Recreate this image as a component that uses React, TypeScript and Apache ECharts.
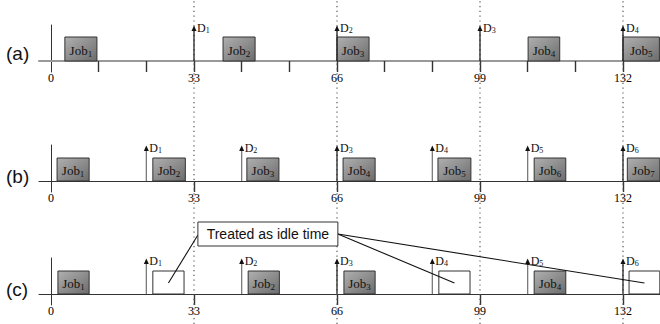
import React, { useEffect, useRef } from "react";
import * as echarts from "echarts";

// ---- data ----
const tickLabels = [0, 33, 66, 99, 132];
const ticksA = [11, 22, 33, 44, 55, 66, 77, 88, 99, 110, 121, 132];
const ticksBC = [33, 66, 99, 132];
const dottedLines = [33, 66, 99, 132];

// [start, end, job number (0 = idle)]
const jobsA = [
  [3.2, 10.6, 1],
  [39.7, 47.1, 2],
  [66.0, 73.4, 3],
  [110.1, 117.4, 4],
  [132.0, 140.4, 5],
];
const jobsB = [
  [1.4, 8.8, 1],
  [23.5, 31.0, 2],
  [45.2, 52.6, 3],
  [67.4, 74.8, 4],
  [89.3, 96.9, 5],
  [111.5, 118.8, 6],
  [133.0, 140.5, 7],
];
const jobsC = [
  [1.6, 8.8, 1],
  [23.5, 30.7, 0],
  [45.5, 52.7, 2],
  [67.6, 74.8, 3],
  [89.5, 96.7, 0],
  [111.5, 118.8, 4],
  [133.4, 140.5, 0],
];
// [time, deadline number]
const deadlinesA = [
  [33, 1],
  [66, 2],
  [99, 3],
  [132, 4],
];
const deadlinesBC = [
  [22, 1],
  [44, 2],
  [66, 3],
  [88, 4],
  [110, 5],
  [132, 6],
];
const panelLabels = ["(a)", "(b)", "(c)"];
const calloutText = "Treated as idle time";
const calloutBox = { x0: 33.9, x1: 66.2, y0: 48, y1: 72 };

const X_MIN = -2.77;
const X_MAX = 140.54;
const SERIF = "Liberation Serif";
const SANS = "Liberation Sans";

function jobSeries(idx: number, data: number[][], h: number) {
  return {
    type: "custom",
    xAxisIndex: idx,
    yAxisIndex: idx,
    z: 5,
    data,
    renderItem: (_p: any, api: any) => {
      const s = api.value(0);
      const e = api.value(1);
      const n = api.value(2);
      const p0 = api.coord([s, h]);
      const p1 = api.coord([e, 0]);
      const idle = n === 0;
      const children: any[] = [
        {
          type: "rect",
          shape: { x: p0[0], y: p0[1], width: p1[0] - p0[0], height: p1[1] - p0[1] },
          style: {
            fill: idle
              ? "#ffffff"
              : new echarts.graphic.LinearGradient(0, 0, 1, 1, [
                  { offset: 0, color: "#b0b0b0" },
                  { offset: 1, color: "#6c6c6c" },
                ]),
            stroke: "#333",
            lineWidth: 1,
          },
        },
      ];
      if (!idle) {
        children.push({
          type: "text",
          x: (p0[0] + p1[0]) / 2,
          y: (p0[1] + p1[1]) / 2 + 1,
          style: {
            text: `{j|Job}{s|${n}}`,
            align: "center",
            verticalAlign: "middle",
            rich: {
              j: { fontFamily: SERIF, fontSize: 13, lineHeight: 16, fill: "#111" },
              s: { fontFamily: SERIF, fontSize: 9, lineHeight: 8, verticalAlign: "bottom", fill: "#111" },
            },
          },
        });
      }
      return { type: "group", children };
    },
  };
}

function deadlineSeries(idx: number, data: number[][], dark: number[]) {
  const tip = 35.5;
  return {
    type: "custom",
    xAxisIndex: idx,
    yAxisIndex: idx,
    z: 6,
    data,
    renderItem: (_p: any, api: any) => {
      const t = api.value(0);
      const n = api.value(1);
      const base = api.coord([t, 0]);
      const top = api.coord([t, tip]);
      const col = dark.indexOf(t) >= 0 ? "#222" : "#7a7a7a";
      return {
        type: "group",
        children: [
          {
            type: "line",
            shape: { x1: base[0], y1: base[1], x2: top[0], y2: top[1] + 4 },
            style: { stroke: col, lineWidth: 1.3 },
          },
          {
            type: "polygon",
            shape: {
              points: [
                [top[0] - 2.5, top[1] + 5.5],
                [top[0], top[1]],
                [top[0] + 2.5, top[1] + 5.5],
              ],
            },
            style: { fill: "#111" },
          },
          {
            type: "text",
            x: top[0] + 3,
            y: top[1] + 2,
            style: {
              text: `{d|D}{s|${n}}`,
              align: "left",
              verticalAlign: "middle",
              rich: {
                d: { fontFamily: SERIF, fontSize: 12, lineHeight: 14, fill: "#111" },
                s: { fontFamily: SERIF, fontSize: 8, lineHeight: 7, verticalAlign: "bottom", fill: "#111" },
              },
            },
          },
        ],
      };
    },
  };
}

export default function App() {
  const ref = useRef<HTMLDivElement>(null);
  useEffect(() => {
    document.body.style.margin = "0";
    const chart = echarts.init(ref.current!, null, { renderer: "svg" });
    const gridTops = [25, 145, 258];
    const grids: any[] = gridTops.map((top) => ({
      left: 39,
      right: 0,
      top,
      height: 47,
      containLabel: false,
      outerBoundsMode: "none",
    }));
    grids.push({ left: 39, right: 0, top: 0, height: 324, containLabel: false, outerBoundsMode: "none" });

    const xAxes: any[] = [0, 1, 2].map((i) => ({
      type: "value",
      gridIndex: i,
      min: X_MIN,
      max: X_MAX,
      splitLine: { show: false },
      axisLine: {
        show: true,
        onZero: true,
        lineStyle: i === 0 ? { color: "#999", width: 2 } : { color: "#333", width: 1.2 },
      },
      axisTick: {
        show: true,
        inside: false,
        length: 11,
        customValues: i === 0 ? ticksA : ticksBC,
        lineStyle: { color: "#333", width: 1.4 },
      },
      axisLabel: {
        show: true,
        customValues: tickLabels,
        margin: 0,
        fontFamily: SERIF,
        fontSize: 12,
        color: "#000",
      },
    }));
    xAxes.push({
      type: "value",
      gridIndex: 3,
      min: X_MIN,
      max: X_MAX,
      show: false,
    });
    const yAxes: any[] = [0, 1, 2].map((i) => ({
      type: "value",
      gridIndex: i,
      min: -11,
      max: 36,
      splitLine: { show: false },
      axisTick: { show: false },
      axisLabel: { show: false },
      axisLine: { show: true, onZero: true, lineStyle: { color: "#333", width: 1 } },
    }));
    yAxes.push({ type: "value", gridIndex: 3, min: 0, max: 1, show: false });

    const dotted = {
      type: "custom",
      xAxisIndex: 3,
      yAxisIndex: 3,
      z: 1,
      data: dottedLines.map((v) => [v]),
      renderItem: (_p: any, api: any) => {
        const a = api.coord([api.value(0), 0]);
        const b = api.coord([api.value(0), 1]);
        return {
          type: "line",
          shape: { x1: a[0], y1: a[1], x2: b[0], y2: b[1] },
          style: { stroke: "#555", lineWidth: 1.2, lineDash: [1.2, 3.6] },
        };
      },
    };

    const idleCenters = jobsC.filter((j) => j[2] === 0).map((j) => [(j[0] + j[1]) / 2, 11]);
    const callout = {
      type: "custom",
      xAxisIndex: 2,
      yAxisIndex: 2,
      z: 10,
      data: [[0]],
      renderItem: (_p: any, api: any) => {
        const tl = api.coord([calloutBox.x0, calloutBox.y1]);
        const br = api.coord([calloutBox.x1, calloutBox.y0]);
        const left = api.coord([calloutBox.x0, 59]);
        const right = api.coord([calloutBox.x1, 60]);
        const lines = idleCenters.map((c, i) => {
          const p = api.coord(c);
          const s = i === 0 ? left : right;
          return {
            type: "line",
            shape: { x1: s[0], y1: s[1], x2: p[0], y2: p[1] },
            style: { stroke: "#111", lineWidth: 1.1 },
          };
        });
        return {
          type: "group",
          children: [
            ...lines,
            {
              type: "rect",
              shape: { x: tl[0], y: tl[1], width: br[0] - tl[0], height: br[1] - tl[1] },
              style: { fill: "#fff", stroke: "#333", lineWidth: 1 },
            },
            {
              type: "text",
              x: (tl[0] + br[0]) / 2,
              y: (tl[1] + br[1]) / 2,
              style: {
                text: calloutText,
                align: "center",
                verticalAlign: "middle",
                fontFamily: SANS,
                fontSize: 14,
                fill: "#111",
              },
            },
          ],
        };
      },
    };

    chart.setOption({
      animation: false,
      backgroundColor: "#fff",
      grid: grids,
      xAxis: xAxes,
      yAxis: yAxes,
      graphic: panelLabels.map((t, i) => ({
        type: "text",
        x: 6,
        y: [53, 176, 289][i],
        style: { text: t, fontFamily: SANS, fontSize: 19, fill: "#111", verticalAlign: "middle" },
      })),
      series: [
        dotted,
        jobSeries(0, jobsA, 24),
        jobSeries(1, jobsB, 23),
        jobSeries(2, jobsC, 23),
        deadlineSeries(0, deadlinesA, [33, 66, 99, 132]),
        deadlineSeries(1, deadlinesBC, [66, 132]),
        deadlineSeries(2, deadlinesBC, [66, 132]),
        callout,
      ],
    });
    return () => chart.dispose();
  }, []);
  return <div ref={ref} style={{ width: 660, height: 324 }} />;
}
